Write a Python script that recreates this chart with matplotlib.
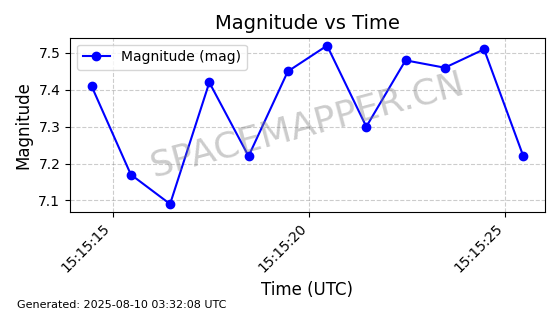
import matplotlib
matplotlib.use('Agg')
import matplotlib.pyplot as plt
import matplotlib.dates as mdates
import pandas as pd

times = pd.to_datetime(['2025-08-10 15:15:14.46', '2025-08-10 15:15:15.46', '2025-08-10 15:15:16.46',
                        '2025-08-10 15:15:17.46', '2025-08-10 15:15:18.46', '2025-08-10 15:15:19.46',
                        '2025-08-10 15:15:20.46', '2025-08-10 15:15:21.46', '2025-08-10 15:15:22.46',
                        '2025-08-10 15:15:23.46', '2025-08-10 15:15:24.46', '2025-08-10 15:15:25.46'])
magnitude = [7.41, 7.17, 7.09, 7.42, 7.22, 7.45, 7.52, 7.30, 7.48, 7.46, 7.51, 7.22]

fig, ax = plt.subplots(figsize=(5.6, 3.14), dpi=100)
ax.plot(times, magnitude, color='blue', marker='o', label='Magnitude (mag)')
ax.set_title('Magnitude vs Time', fontsize=14)
ax.set_xlabel('Time (UTC)', fontsize=12)
ax.set_ylabel('Magnitude', fontsize=12)
ax.grid(color='gray', linestyle='--', alpha=0.4)
ax.legend(loc='upper left')
ax.xaxis.set_major_formatter(mdates.DateFormatter('%H:%M:%S'))
plt.setp(ax.get_xticklabels(), rotation=45, ha='right')
ax.text(0.5, 0.5, 'SPACEMAPPER.CN', transform=ax.transAxes, fontsize=26, color='gray',
        alpha=0.4, rotation=15, ha='center', va='center')
fig.text(0.03, 0.02, 'Generated: 2025-08-10 03:32:08 UTC', fontsize=8)
fig.subplots_adjust(left=0.125, right=0.973, top=0.88, bottom=0.325)
fig.savefig('out.png')
